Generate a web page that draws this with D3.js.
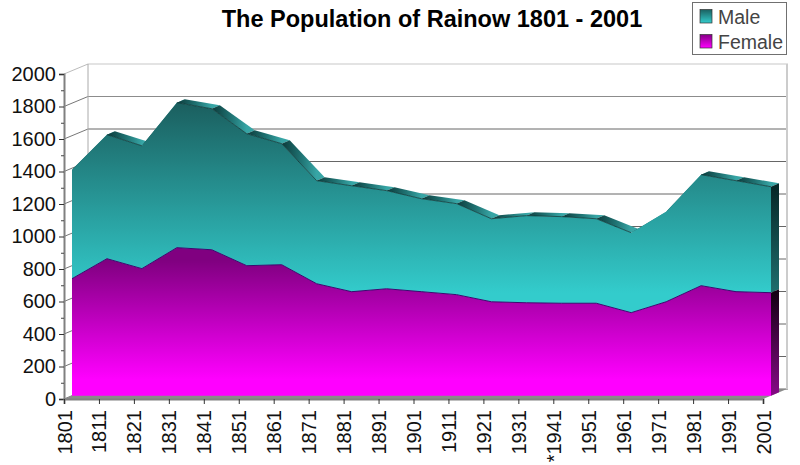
<!DOCTYPE html>
<html><head><meta charset="utf-8">
<script src="https://cdnjs.cloudflare.com/ajax/libs/d3/7.8.5/d3.min.js"></script>
<style>html,body{margin:0;padding:0;background:#fff}svg{display:block;font-family:"Liberation Sans",Arial,sans-serif}</style>
</head><body><svg id="c" width="800" height="465"></svg>
<script>
const years=["1801","1811","1821","1831","1841","1851","1861","1871","1881","1891","1901","1911","1921","1931","*1941","1951","1961","1971","1981","1991","2001"];
const female=[720,843,782,911,898,800,806,689,640,658,640,622,578,572,569,569,511,578,677,640,634];
const male=[671,763,756,892,868,812,745,634,652,604,572,560,511,536,533,520,492,554,683,683,652];
const yTicks=[0,200,400,600,800,1000,1200,1400,1600,1800,2000];
const minorTicks=[100,300,500,700,900,1100,1300,1500,1700,1900];
const seriesNames=["Male","Female"];

const svg=d3.select("#c");
const x=d3.scalePoint().domain(years).range([64,763]);
const y=d3.scaleLinear().domain([0,2000]).range([399,74]);
const wallDx=24,wallDy=-10;
const planeDx=8,planeDy=-3.3;
const bevelDx=8,bevelDy=-3.5;

const defs=svg.append("defs");
function grad(id,stops,x1,y1,x2,y2){
  const g=defs.append("linearGradient").attr("id",id).attr("gradientUnits","userSpaceOnUse")
    .attr("x1",x1).attr("y1",y1).attr("x2",x2).attr("y2",y2);
  stops.forEach(s=>g.append("stop").attr("offset",s[0]).attr("stop-color",s[1]));
}
grad("gMale",[[0,"#1a5c5c"],[1,"#33cccc"]],0,y(1850),0,y(650));
grad("gFemale",[[0,"#800080"],[1,"#ff00ff"]],0,y(850),0,y(120));
grad("gMaleSide",[[0,"#062828"],[1,"#1f6e6e"]],0,y(1300),0,y(650));
grad("gFemaleSide",[[0,"#140014"],[1,"#8a0a8a"]],0,y(650),0,y(0));
grad("gLegM",[[0,"#1a5c5c"],[1,"#33cccc"]],0,9,0,23);
grad("gLegF",[[0,"#800080"],[1,"#ff00ff"]],0,34,0,48);

const wall=svg.append("g");
const X0=x(years[0]),X1=x(years[years.length-1]);
yTicks.forEach(t=>{
  const yy=y(t)+wallDy;
  wall.append("line").attr("x1",X0+wallDx).attr("x2",X1+wallDx+1).attr("y1",yy).attr("y2",yy)
    .attr("stroke",t===2000?"#c8c8c8":(t===1800?"#8c8c8c":"#666")).attr("stroke-width",t===2000?1.2:1);
  wall.append("line").attr("x1",X0).attr("x2",X0+wallDx).attr("y1",y(t)).attr("y2",yy).attr("stroke",t===2000?"#bbb":"#777");
});
wall.append("line").attr("x1",X0+wallDx).attr("x2",X0+wallDx).attr("y1",y(2000)+wallDy).attr("y2",y(0)+wallDy).attr("stroke","#aaa");
wall.append("line").attr("x1",X1+wallDx).attr("x2",X1+wallDx).attr("y1",y(2000)+wallDy).attr("y2",y(0)+wallDy).attr("stroke","#ccc").attr("stroke-width",2);
svg.append("path").attr("d",`M${X0},${y(0)}L${X1},${y(0)}L${X1+wallDx},${y(0)+wallDy}L${X0+wallDx},${y(0)+wallDy}Z`).attr("fill","#8a8a8a");

const totals=female.map((f,i)=>f+male[i]);
const px=i=>x(years[i])+planeDx, py=v=>y(v)+planeDy;

function bevel(vals,key){
  for(let i=0;i<vals.length-1;i++){
    const id=`b${key}${i}`;
    grad(id,[[0,"#0c3a3a"],[0.55,"#1f7272"],[1,"#37a5a5"]],px(i),0,px(i+1),0);
    svg.append("path").attr("fill",`url(#${id})`)
      .attr("d",`M${px(i)},${py(vals[i])}L${px(i+1)},${py(vals[i+1])}L${px(i+1)+bevelDx},${py(vals[i+1])+bevelDy}L${px(i)+bevelDx},${py(vals[i])+bevelDy}Z`);
  }
}
bevel(totals,"m");

const last=years.length-1;
svg.append("path").attr("fill","url(#gMaleSide)")
  .attr("d",`M${px(last)},${py(totals[last])}L${px(last)+bevelDx},${py(totals[last])+bevelDy}V${py(female[last])+bevelDy}L${px(last)},${py(female[last])}Z`);
svg.append("path").attr("fill","url(#gFemaleSide)")
  .attr("d",`M${px(last)},${py(female[last])}L${px(last)+bevelDx},${py(female[last])+bevelDy}V${py(0)+bevelDy}L${px(last)},${py(0)}Z`);

const idx=d3.range(years.length);
const areaMale=d3.area().x(i=>px(i)).y0(i=>py(female[i])).y1(i=>py(totals[i]));
const areaFemale=d3.area().x(i=>px(i)).y0(py(0)).y1(i=>py(female[i]));
svg.append("path").datum(idx).attr("d",areaMale).attr("fill","url(#gMale)");
svg.append("path").datum(idx).attr("d",areaFemale).attr("fill","url(#gFemale)");
svg.append("path").datum(idx).attr("d",d3.line().x(i=>px(i)).y(i=>py(female[i]))).attr("fill","none").attr("stroke","#3a0a70").attr("stroke-width",1);
// dark front edge where the top ribbon is visible
for(let i=0;i<last;i++){
  if(py(totals[i+1])>=py(totals[i])-4){
    svg.append("line").attr("x1",px(i)).attr("y1",py(totals[i])).attr("x2",px(i+1)).attr("y2",py(totals[i+1]))
      .attr("stroke","#0c3a3a").attr("stroke-width",0.8);
  }
}

const ax=svg.append("g").attr("transform",`translate(${X0},0)`)
  .call(d3.axisLeft(y).tickValues(yTicks).tickSize(5).tickPadding(3).tickFormat(d3.format("d")));
ax.select(".domain").attr("stroke","#808080").attr("stroke-width",2);
ax.selectAll(".tick line").attr("stroke","#333");
ax.selectAll("text").attr("font-size",20).attr("font-family","Liberation Sans").attr("fill","#111");
const mn=svg.append("g").attr("transform",`translate(${X0},0)`)
  .call(d3.axisLeft(y).tickValues(minorTicks).tickSize(3).tickFormat(""));
mn.select(".domain").remove();
mn.selectAll(".tick line").attr("stroke","#444");

const bx=svg.append("g").attr("transform",`translate(0,${y(0)})`)
  .call(d3.axisBottom(x).tickSize(5));
bx.select(".domain").attr("stroke","#808080").attr("stroke-width",2);
bx.selectAll(".tick line").attr("stroke","#333");
bx.selectAll("text").attr("font-size",20).attr("font-family","Liberation Sans").attr("fill","#111")
  .attr("text-anchor","end").attr("transform","rotate(-90)").attr("x",-11).attr("y",0).attr("dy","0.35em");

svg.append("text").attr("x",432).attr("y",27).attr("text-anchor","middle")
  .attr("font-size",23.5).attr("font-weight","bold").attr("fill","#000").text("The Population of Rainow 1801 - 2001");

svg.append("rect").attr("x",692.5).attr("y",2.5).attr("width",94).attr("height",52).attr("fill","#fff").attr("stroke","#707070").attr("stroke-width",1);
seriesNames.forEach((n,i)=>{
  const yy=[9.5,34.5][i];
  svg.append("rect").attr("x",700).attr("y",yy).attr("width",12).attr("height",13.5).attr("fill",i?"url(#gLegF)":"url(#gLegM)").attr("stroke","#333").attr("stroke-width",.7);
  svg.append("text").attr("x",718).attr("y",yy+14).attr("font-size",19.5).attr("fill","#444").text(n);
});
</script></body></html>
